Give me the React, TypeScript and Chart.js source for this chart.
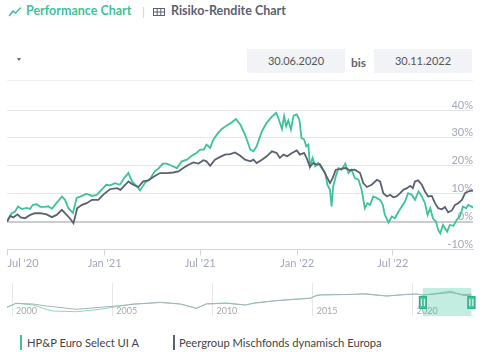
import React, { useEffect, useRef } from 'react';
import { Chart, registerables } from 'chart.js';

Chart.register(...registerables);

const startDate = '30.06.2020';
const endDate = '30.11.2022';
const fundName = 'HP&P Euro Select UI A';
const peerName = 'Peergroup Mischfonds dynamisch Europa';

// days since 30.06.2020 and performance in %
const fundDays = [0,9,15,21,28,37,44,49,56,63,72,78,85,94,104,110,116,125,132,142,151,161,170,179,188,195,205,214,222,230,237,246,252,262,271,280,287,295,303,312,322,331,341,350,359,366,373,378,385,391,400,407,416,426,434,442,451,461,467,473,483,492,502,510,514,521,525,529,533,538,543,549,554,558,563,567,571,574,579,584,590,596,603,607,612,615,618,623,628,634,641,647,653,659,666,672,678,683,688,694,701,707,712,716,723,729,735,742,748,754,760,767,773,780,786,792,797,802,807,813,817,821,826,830,834,839,846,852,858,864,870,874,880,883];
const fundPerf = [0,3,3.5,5.4,4.5,4.9,4.6,6,6.2,5.3,5.3,5.5,4.6,6.7,9,7.8,4.9,3.1,8.5,9.2,10,9.2,9.6,11.4,13.2,13,13.8,13.2,15.6,17.4,14.4,12.6,11.2,14,15.3,18,19,20.8,20.8,20,19.2,21.6,22.2,23.6,24.6,25.8,25.8,27.6,26.4,29.4,31.8,33.2,34.4,35.6,36.8,34.8,31.2,25.8,25.2,27,32.4,35.4,37.6,39,37.2,33.2,37.8,34.2,36.3,33,38,38.4,36.6,30,29.4,27,27.6,19.8,22.8,19.8,21,19.2,17.4,13.2,11.4,5.4,12.6,16.2,19.2,18.6,20.8,17.4,18.6,15.6,15,11.4,4.8,6.6,6,9,8.4,7.8,6,2.4,-0.4,1.8,1.2,3.6,5.4,7.2,10.2,9.6,7.8,10.8,9,6.6,2.4,4.8,1.2,0,-3,-4.2,-1.2,-2.4,-3.6,-1.2,-1.5,0.6,1.8,5.4,4.8,6,5.4,5];

const peerDays = [0,6,12,20,26,34,44,53,63,75,85,94,104,113,119,126,133,142,151,161,173,182,195,208,215,224,230,239,249,258,268,277,290,303,315,325,334,344,353,363,372,378,385,394,404,413,423,432,442,451,461,467,473,483,492,502,511,517,524,531,540,549,555,563,569,574,580,587,593,599,606,612,617,623,631,641,650,659,669,675,682,691,701,707,713,720,726,732,738,745,751,758,764,769,773,779,786,792,798,805,811,817,824,830,836,843,849,855,862,868,874,880,883];
const peerPerf = [0,2,1.5,2.6,1.5,1.2,2.4,3,3,2.6,1.6,2.4,4.2,2.4,1.2,-0.6,4.8,6,6.6,7.8,7.8,9.6,11.6,12,11.4,13.2,14.4,13.2,12.4,14.4,14.8,16,17.4,17.4,17.6,18,19.2,20.4,21.2,20.8,22,21.6,20,22.2,23.2,24,24.2,24.8,23.6,22.2,21.6,22.2,21,22.2,23.4,25.2,24.6,22.8,24,23.4,24.6,25.5,24,24.6,22.2,19.6,21,20.4,20.6,18.6,16,13.8,15.6,18.6,18.8,19.2,18.4,18.6,17.4,13.8,12.4,13.2,15,14.4,10.2,9,9.6,8.7,9,10.2,11.4,12,12.8,12,14.4,14.8,13.2,10.8,9,9.2,6.6,4.8,4.4,5.2,3.3,4,6,6.6,7.8,10.2,10.8,11.2,11];

const xTickDays = [1, 185, 366, 550, 731, 883];
const xTickLabels = ["Jul '20", "Jan '21", "Jul '21", "Jan '22", "Jul '22", ''];
const yTicks = [-10, 0, 10, 20, 30, 40];

// navigator (long history)
const navYears = [1999.75,2000.2,2001.05,2001.7,2002.05,2003.2,2004.4,2005.2,2006.05,2007.4,2008.4,2009.2,2009.7,2010.7,2011.65,2012.05,2013.2,2014.9,2015.15,2015.4,2017.05,2017.55,2018.7,2019.55,2020.2,2020.5,2021.0,2021.5,2021.9,2022.2,2022.5,2022.92];
const navPeer = [8.7,12.7,12,10,9.3,6.7,8.7,10,11.7,13.7,12,7.7,12,12.7,11,12.7,15.3,17.7,20,21,21.7,22,20,21.3,22,21,21.8,22.8,23.5,22.5,21.5,21.8];
const navFund = [8.7,12.7,11,6.7,5,4.3,6.7,9.3,12,13.5,12,7.7,12.3,13,11,13,15.5,18,20.5,21.3,21.5,22.5,20,21.5,22,21,22,23.5,25,22.5,20.5,20.5];
const navTickYears = [2000, 2005, 2010, 2015, 2020];
const navTickLabels = ['2000', '2005', '2010', '2015', '2020'];
const navSelection = [2020.5, 2022.92];

const GREEN = '#3cc39b';
const DARK = '#5a6170';
const LABEL = '#a3a7b9';

Chart.defaults.font.family = 'Lato, sans-serif';

const navPlugin = {
  id: 'navDecor',
  beforeDatasetsDraw(chart: any) {
    const { ctx, chartArea, scales } = chart;
    ctx.save();
    ctx.font = '9px Lato, sans-serif';
    ctx.fillStyle = '#a8a8a8';
    ctx.textBaseline = 'middle';
    ctx.textAlign = 'left';
    navTickYears.forEach((yr, i) => {
      ctx.fillText(navTickLabels[i], scales.x.getPixelForValue(yr) + 4, chartArea.bottom - 5);
    });
    ctx.restore();
  },
  afterDatasetsDraw(chart: any) {
    const { ctx, chartArea, scales } = chart;
    const x1 = scales.x.getPixelForValue(navSelection[0]);
    const x2 = scales.x.getPixelForValue(navSelection[1]);
    const top = chartArea.top + 5;
    ctx.save();
    ctx.fillStyle = 'rgba(60,195,155,0.3)';
    ctx.fillRect(x1, top, x2 - x1, chartArea.bottom - top);
    [x1, x2].forEach((hx) => {
      const hy = 16;
      ctx.fillStyle = '#47c49f';
      ctx.fillRect(hx - 4, hy, 8, 13);
      ctx.strokeStyle = '#2fae88';
      ctx.lineWidth = 1;
      ctx.strokeRect(hx - 3.5, hy + 0.5, 7, 12);
      ctx.strokeStyle = '#ffffff';
      ctx.beginPath();
      ctx.moveTo(hx - 1.5, hy + 3);
      ctx.lineTo(hx - 1.5, hy + 10);
      ctx.moveTo(hx + 1.5, hy + 3);
      ctx.lineTo(hx + 1.5, hy + 10);
      ctx.stroke();
    });
    ctx.restore();
  },
};

export default function App() {
  const mainRef = useRef<HTMLCanvasElement>(null);
  const navRef = useRef<HTMLCanvasElement>(null);

  useEffect(() => {
    const main = new Chart(mainRef.current!, {
      type: 'line',
      data: {
        datasets: [
          {
            label: peerName,
            data: peerDays.map((d, i) => ({ x: d, y: peerPerf[i] })),
            borderColor: DARK,
            borderWidth: 1.8,
            pointRadius: 0,
            tension: 0,
          },
          {
            label: fundName,
            data: fundDays.map((d, i) => ({ x: d, y: fundPerf[i] })),
            borderColor: GREEN,
            borderWidth: 1.8,
            pointRadius: 0,
            tension: 0,
          },
        ],
      },
      options: {
        animation: false,
        responsive: false,
        maintainAspectRatio: false,
        layout: { padding: { left: 7, right: 9, top: 20, bottom: 3.5 } },
        plugins: { legend: { display: false }, tooltip: { enabled: false } },
        scales: {
          x: {
            type: 'linear',
            min: 0,
            max: 883,
            afterBuildTicks: (s: any) => {
              s.ticks = xTickDays.map((v) => ({ value: v }));
            },
            afterFit: (s: any) => {
              s.height = 22;
              s.paddingLeft = 0;
              s.paddingRight = 0;
            },
            ticks: {
              autoSkip: false,
              maxRotation: 0,
              align: 'inner',
              padding: 1,
              color: LABEL,
              font: { size: 11 },
              callback: (_v: any, i: number) => xTickLabels[i],
            },
            grid: {
              drawOnChartArea: false,
              tickLength: 6,
              tickColor: (c: any) => (c.index === xTickDays.length - 1 ? 'rgba(0,0,0,0)' : '#ccd6eb'),
            },
            border: { display: true, color: '#ccd6eb', width: 1 },
          },
          y: {
            position: 'right',
            min: -10,
            max: 40,
            afterBuildTicks: (s: any) => {
              s.ticks = yTicks.map((v) => ({ value: v }));
            },
            afterFit: (s: any) => {
              s.width = 0;
            },
            ticks: {
              mirror: true,
              padding: 0,
              labelOffset: -5,
              color: LABEL,
              font: { size: 11 },
              callback: (v: any) => v + '%',
            },
            grid: {
              drawTicks: false,
              color: (c: any) => (c.tick && c.tick.value === 0 ? '#cccccc' : '#e6e6e6'),
              lineWidth: (c: any) => (c.tick && c.tick.value === 0 ? 2 : 1),
            },
            border: { display: false },
          },
        },
      },
    } as any);

    const nav = new Chart(navRef.current!, {
      type: 'line',
      data: {
        datasets: [
          {
            data: navYears.map((y, i) => ({ x: y, y: navPeer[i] })),
            borderColor: '#aab0b9',
            borderWidth: 1,
            pointRadius: 0,
          },
          {
            data: navYears.map((y, i) => ({ x: y, y: navFund[i] })),
            borderColor: '#86d9c0',
            borderWidth: 1,
            pointRadius: 0,
          },
        ],
      },
      options: {
        animation: false,
        responsive: false,
        maintainAspectRatio: false,
        layout: { padding: { left: 7, right: 10, top: 3, bottom: 4 } },
        plugins: { legend: { display: false }, tooltip: { enabled: false } },
        scales: {
          x: {
            type: 'linear',
            min: 1999.75,
            max: 2022.95,
            afterBuildTicks: (s: any) => {
              s.ticks = navTickYears.map((v) => ({ value: v }));
            },
            afterFit: (s: any) => {
              s.height = 0;
              s.paddingLeft = 0;
              s.paddingRight = 0;
            },
            ticks: { display: false },
            grid: { color: '#e6e6e6', drawTicks: false },
            border: { display: false },
          },
          y: { display: false, min: 0, max: 33 },
        },
      },
      plugins: [navPlugin],
    } as any);

    return () => {
      main.destroy();
      nav.destroy();
    };
  }, []);

  const abs = (s: React.CSSProperties): React.CSSProperties => ({ position: 'absolute', ...s });

  return (
    <div style={{ position: 'fixed', left: 0, top: 0, width: 482, height: 352, background: '#fff', fontFamily: 'Lato, sans-serif', overflow: 'hidden' }}>
      <svg style={abs({ left: 8, top: 6 })} width={14} height={11}>
        <polyline points="1.5,9.5 5,5 7.5,7 12.5,2" stroke={GREEN} strokeWidth={1.6} fill="none" strokeLinejoin="round" strokeLinecap="round" />
      </svg>
      <div style={abs({ left: 26, top: 5, fontSize: 12.5, lineHeight: 1, fontWeight: 700, color: GREEN, whiteSpace: 'nowrap' })}>Performance Chart</div>
      <div style={abs({ left: 142, top: 6, fontSize: 11, lineHeight: 1, color: '#c3c7cf' })}>|</div>
      <svg style={abs({ left: 153, top: 8 })} width={12} height={8}>
        <rect x={0.5} y={0.5} width={11} height={7} fill="none" stroke={DARK} strokeWidth={1} />
        <line x1={4.2} y1={0} x2={4.2} y2={8} stroke={DARK} strokeWidth={1} />
        <line x1={7.8} y1={0} x2={7.8} y2={8} stroke={DARK} strokeWidth={1} />
        <line x1={0} y1={4} x2={12} y2={4} stroke={DARK} strokeWidth={1} />
      </svg>
      <div style={abs({ left: 171, top: 5, fontSize: 12.5, lineHeight: 1, fontWeight: 700, color: DARK, whiteSpace: 'nowrap' })}>Risiko-Rendite Chart</div>

      <div style={abs({ left: 17, top: 58, width: 0, height: 0, borderLeft: '2.5px solid transparent', borderRight: '2.5px solid transparent', borderTop: '3px solid #666' })} />
      <div style={abs({ left: 247, top: 49, width: 98, height: 24, background: '#f1f3f7', lineHeight: '24px', textAlign: 'center', fontSize: 11, color: '#555' })}>{startDate}</div>
      <div style={abs({ left: 351, top: 56, fontSize: 12, lineHeight: '14px', fontWeight: 700, color: '#666' })}>bis</div>
      <div style={abs({ left: 374, top: 49, width: 98, height: 24, background: '#f1f3f7', lineHeight: '24px', textAlign: 'center', fontSize: 11, color: '#555' })}>{endDate}</div>
      <div style={abs({ left: 7, top: 80, width: 466, height: 1, background: '#eef0f3' })} />

      <canvas ref={mainRef} width={482} height={185} style={abs({ left: 0, top: 90, width: 482, height: 185 })} />
      <canvas ref={navRef} width={482} height={40} style={abs({ left: 0, top: 280, width: 482, height: 40 })} />

      <div style={abs({ left: 20, top: 335, width: 2, height: 15, background: GREEN })} />
      <div style={abs({ left: 27, top: 336, fontSize: 11.2, lineHeight: '14px', color: '#444', whiteSpace: 'nowrap' })}>{fundName}</div>
      <div style={abs({ left: 173, top: 335, width: 2, height: 15, background: DARK })} />
      <div style={abs({ left: 179, top: 336, fontSize: 11.2, lineHeight: '14px', color: '#444', whiteSpace: 'nowrap' })}>{peerName}</div>
    </div>
  );
}
